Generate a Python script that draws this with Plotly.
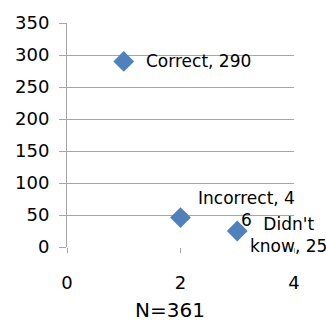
import plotly.graph_objects as go

# Survey answers: category, count, position on the x axis
categories = ["Correct", "Incorrect", "Didn't know"]
counts = [290, 46, 25]
x_positions = [1, 2, 3]
# character index where each data label wraps onto a second line (None = no wrap)
wrap_at = [None, 12, 6]
sample_size = 361

FONT = "DejaVu Sans"
BLUE = "#4F81BD"
GRID = "#A6A6A6"


def label_text(cat, val, brk):
    s = f"{cat}, {val}"
    if brk is None:
        return s
    return s[:brk].rstrip() + "<br>" + s[brk:].lstrip()


fig = go.Figure()
fig.add_trace(go.Scatter(
    x=x_positions, y=counts, mode="markers",
    marker=dict(symbol="diamond", size=16, color=BLUE, line=dict(width=0)),
    showlegend=False, hoverinfo="skip",
))

# label offsets (pixels) relative to each marker
offsets = [(20, 0), (15, 9), (11, -4)]
for xv, yv, cat, brk, (dx, dy) in zip(x_positions, counts, categories, wrap_at, offsets):
    fig.add_annotation(
        x=xv, y=yv, xref="x", yref="y",
        text=label_text(cat, yv, brk),
        showarrow=False, xanchor="left", yanchor="middle", align="center",
        xshift=dx, yshift=dy,
        font=dict(family=FONT, size=17, color="#000000"),
    )

fig.add_annotation(
    x=0.454, y=0, xref="paper", yref="paper", yshift=-49,
    text=f"N={sample_size}", showarrow=False,
    xanchor="center", yanchor="top",
    font=dict(family=FONT, size=20, color="#000000"),
)

fig.update_xaxes(
    range=[0, 4], tickvals=[0, 2, 4], ticks="outside", ticklen=5,
    tickcolor=GRID, showgrid=False, zeroline=False,
    showline=False, tickfont=dict(family=FONT, size=18, color="#000000"),
    ticklabelstandoff=14,
)
fig.update_yaxes(
    range=[0, 350], tickvals=list(range(0, 351, 50)), ticks="outside", ticklen=7,
    tickcolor=GRID, showgrid=True, gridcolor=GRID, gridwidth=1, zeroline=False,
    showline=True, linecolor=GRID, linewidth=1,
    tickfont=dict(family=FONT, size=18, color="#000000"),
    ticklabelstandoff=6,
)
fig.update_layout(
    width=326, height=327,
    margin=dict(l=67, r=32, t=18, b=80),
    paper_bgcolor="white", plot_bgcolor="white",
)
fig.write_html("out.html")
